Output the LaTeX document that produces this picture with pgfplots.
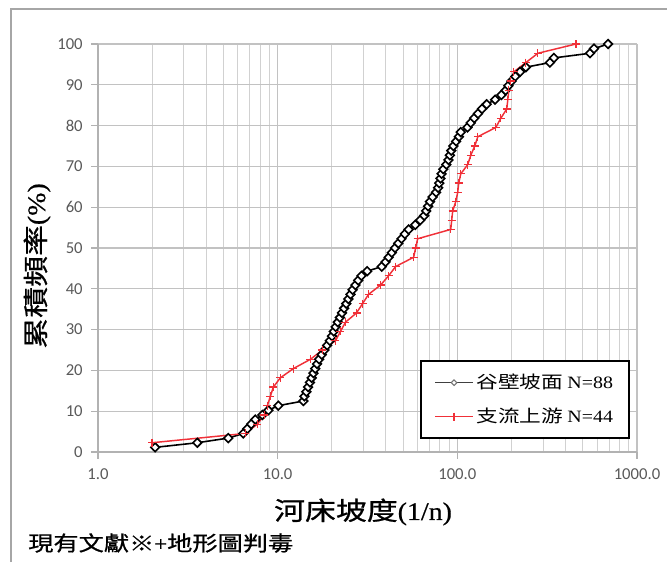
\documentclass[border=0pt]{standalone}
\usepackage{pgfplots}
\pgfplotsset{compat=1.18}
\usepackage{pgfplotstable}
\usepackage{fontspec}
\setmainfont{Liberation Serif}
\newfontfamily\cjk[FakeStretch=1.25]{Noto Sans CJK TC}
\newfontfamily\cjkb[FakeStretch=1.22, FakeBold=0.8]{Noto Sans CJK TC}
\newfontfamily\lat[FakeStretch=1.15]{Liberation Serif}
\newfontfamily\latb[FakeStretch=1.1, FakeBold=0.6]{Liberation Serif}
\newfontfamily\tickfont{Carlito}
\definecolor{serred}{RGB}{240,48,56}
\definecolor{tickgray}{RGB}{89,89,89}

\pgfplotstableread{
x y
2.08 1.14
3.57 2.27
5.31 3.41
6.44 4.55
6.78 5.68
7.13 6.82
7.51 7.95
8.22 9.09
8.87 10.23
10.09 11.36
13.91 12.50
14.09 13.64
14.46 14.77
14.77 15.91
15.12 17.05
15.47 18.18
15.82 19.32
16.19 20.45
16.57 21.59
17.00 22.73
17.60 23.86
18.22 25.00
18.86 26.14
19.53 27.27
20.06 28.41
20.53 29.55
21.03 30.68
21.61 31.82
22.20 32.95
22.81 34.09
23.46 35.23
24.10 36.36
24.76 37.50
25.44 38.64
26.16 39.77
27.09 40.91
28.08 42.05
29.26 43.18
31.48 44.32
37.97 45.45
39.87 46.59
41.50 47.73
43.19 48.86
44.99 50.00
46.94 51.14
48.90 52.27
51.03 53.41
53.58 54.55
58.32 55.68
62.18 56.82
65.46 57.95
67.07 59.09
68.73 60.23
70.42 61.36
72.92 62.50
76.18 63.64
78.26 64.77
79.37 65.91
80.51 67.05
81.75 68.18
83.56 69.32
86.85 70.45
89.22 71.59
90.84 72.73
92.58 73.86
95.00 75.00
98.47 76.14
102.1 77.27
104.5 78.41
113.9 79.55
118.8 80.68
124.1 81.82
130.3 82.95
137.2 84.09
145.7 85.23
162.3 86.36
176.0 87.50
185.8 88.64
192.2 89.77
200.3 90.91
210.3 92.05
223.4 93.18
240.7 94.32
327.6 95.45
344.9 96.59
547.5 97.73
576.4 98.86
690.0 100.00
}\slopeA

\pgfplotstableread{
x y
2.00 2.27
6.61 4.55
7.71 6.82
8.43 9.09
8.76 11.36
9.11 13.64
9.46 15.91
10.35 18.18
12.24 20.45
15.22 22.73
17.76 25.00
20.98 27.27
22.37 29.55
23.85 31.82
27.48 34.09
29.68 36.36
32.06 38.64
37.39 40.91
41.44 43.18
45.35 45.45
57.12 47.73
58.61 50.00
60.13 52.27
91.89 54.55
93.08 56.82
94.26 59.09
97.97 61.36
100.5 63.64
101.8 65.91
104.5 68.18
114.3 70.45
118.8 72.73
125.0 75.00
130.0 77.27
163.8 79.55
174.7 81.82
188.5 84.09
191.0 86.36
193.5 88.64
198.5 90.91
206.3 93.18
240.7 95.45
280.8 97.73
457.5 100.00
}\slopeB

\begin{document}
\begin{tikzpicture}
\begin{axis}[
  at={(73.5pt,82.5pt)}, anchor=south west,
  scale only axis, width=404.25pt, height=306pt,
  xmode=log, xmin=1, xmax=1000, ymin=0, ymax=100,
  xtick={1,10,100,1000}, xticklabels={1.0,10.0,100.0,1000.0},
  ytick={0,10,...,100},
  grid=both,
  major grid style={draw=black!24, line width=0.9pt},
  minor grid style={draw=black!18, line width=0.8pt},
  axis x line*=bottom, axis y line*=left,
  axis line style={draw=black!30, line width=0.9pt, -},
  tick align=outside, major tick length=5pt, minor tick length=0pt,
  tick style={draw=black!30, line width=0.9pt},
  /pgf/number format/assume math mode=true,
  ticklabel style={font=\tickfont\fontsize{12.5}{14}\selectfont, text=tickgray},
  xticklabel style={yshift=-4pt},
  yticklabel style={xshift=-3pt},
  xlabel={\fontsize{19}{21}\selectfont{\cjkb 河床坡度}{\latb(1/n)}},
  xlabel style={at={(axis description cs:0.4917,-0.147)}, anchor=center},
  ylabel={\fontsize{19}{21}\selectfont{\cjkb 累積頻率}{\latb(\%)}},
  ylabel style={at={(axis description cs:-0.113,0.456)}, anchor=center},
  clip=false,
  legend cell align=left,
  legend style={at={(rel axis cs:0.987,0.2255)}, anchor=north east,
    draw=black, line width=1.5pt, fill=white,
    inner xsep=10pt, inner ysep=8pt, row sep=9pt,
    font=\fontsize{13}{15}\selectfont},
  legend image code/.code={
    \draw[mark repeat=2,mark phase=2,#1] plot coordinates {(0cm,0cm) (0.5cm,0cm) (1cm,0cm)};
  },
]
\addplot[black, line width=1.2pt, mark=square*, mark size=2.3pt,
  mark options={rotate=45, fill=white, draw=black, line width=1.2pt}, forget plot]
  table[x=x,y=y]{\slopeA};
\addlegendimage{black!75, line width=1.1pt, mark=square*, mark size=1.5pt,
  mark options={rotate=45, fill=white, draw=black!55, line width=0.8pt}}
\addlegendentry{{\cjk 谷壁坡面} {\lat N=88}}
\addplot[serred, line width=1.1pt, mark=+, mark size=3pt,
  mark options={draw=serred, line width=0.9pt}]
  table[x=x,y=y]{\slopeB};
\addlegendentry{{\cjk 支流上游} {\lat N=44}}
\end{axis}
\draw[black!35, line width=1pt] (8.25pt,0pt) -- (8.25pt,414.75pt) -- (500.25pt,414.75pt);
\node[anchor=west, inner sep=0pt] at (21pt,14.25pt) {\fontsize{15.5}{17}\selectfont{\cjkb 現有文獻※}{\latb+}{\cjkb 地形圖判毒}};
\pgfresetboundingbox
\path[use as bounding box] (0,0) rectangle (500.25pt,421.5pt);
\end{tikzpicture}
\end{document}
